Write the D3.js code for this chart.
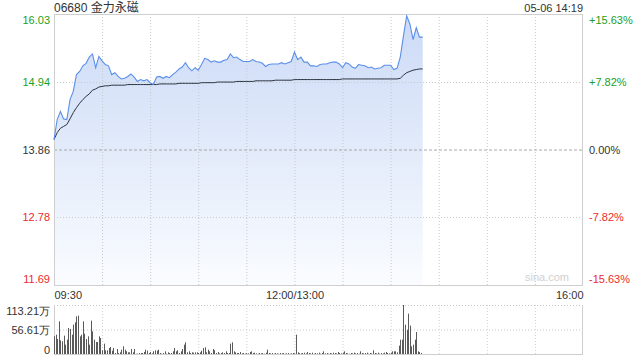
<!DOCTYPE html>
<html><head><meta charset="utf-8">
<script src="https://cdn.jsdelivr.net/npm/d3@7"></script>
<style>
html,body{margin:0;padding:0;background:#fff;}
svg{display:block;font-family:"Liberation Sans",Arial,"Noto Sans CJK SC",sans-serif;}
</style></head><body>
<svg id="c" width="640" height="360"></svg>
<script>
// ---- data ----
const title = "06680 金力永磁";
const stamp = "05-06 14:19";
const prevClose = 13.86;
const sessionMinutes = 330;          // 09:30-12:00 + 13:00-16:00
const priceStepMinutes = 2;          // one price sample every 2 minutes
const prices = [
14.02,14.34,14.47,14.35,14.34,14.66,14.79,15.06,15.11,15.20,
15.24,15.34,15.39,15.17,15.35,15.28,15.22,15.20,15.06,15.09,
15.03,14.99,15.00,15.03,15.07,15.02,14.95,14.98,14.96,14.98,
14.93,14.90,15.02,15.03,15.00,15.03,15.01,15.06,15.10,15.15,
15.18,15.25,15.17,15.12,15.17,15.13,15.22,15.32,15.30,15.26,
15.28,15.26,15.26,15.29,15.30,15.39,15.33,15.34,15.30,15.27,
15.27,15.27,15.30,15.27,15.26,15.24,15.19,15.22,15.23,15.23,
15.23,15.25,15.23,15.25,15.27,15.42,15.30,15.34,15.26,15.26,
15.20,15.20,15.19,15.22,15.23,15.23,15.25,15.26,15.26,15.23,
15.17,15.25,15.23,15.18,15.16,15.22,15.21,15.20,15.17,15.18,
15.15,15.16,15.17,15.21,15.21,15.21,15.14,15.16,15.34,15.68,
16.00,15.87,15.62,15.81,15.66,15.66];
const avgPrices = [
14.02,14.13,14.20,14.23,14.26,14.35,14.45,14.53,14.60,14.66,
14.71,14.75,14.81,14.83,14.86,14.87,14.88,14.88,14.89,14.89,
14.89,14.89,14.89,14.90,14.90,14.90,14.90,14.90,14.90,14.90,
14.90,14.90,14.90,14.91,14.91,14.91,14.91,14.91,14.91,14.92,
14.92,14.92,14.92,14.92,14.92,14.92,14.93,14.93,14.93,14.93,
14.93,14.94,14.94,14.94,14.94,14.94,14.94,14.95,14.95,14.95,
14.95,14.95,14.95,14.96,14.96,14.96,14.96,14.96,14.96,14.97,
14.97,14.97,14.97,14.97,14.97,14.98,14.98,14.98,14.98,14.98,
14.98,14.98,14.98,14.98,14.98,14.98,14.98,14.98,14.98,14.98,
14.99,14.99,14.99,14.99,14.99,14.99,14.99,14.99,14.99,14.99,
14.99,14.99,14.99,14.99,14.99,14.99,14.99,14.99,15.00,15.05,
15.09,15.11,15.13,15.14,15.15,15.15];
// volume per minute, in 万
const volumes = [
40.8,44.7,34.7,75.5,31.6,29.3,42.4,21.6,33.1,60.1,
57.8,44.7,67.8,73.2,87.0,88.6,40.8,44.7,75.5,47.0,
34.7,40.8,21.6,77.0,52.4,33.1,27.7,27.7,40.8,37.0,
8.5,23.9,8.5,8.5,13.9,16.2,7.7,13.9,2.3,11.6,2.3,
3.9,10.0,17.7,10.0,6.2,3.9,3.9,11.6,3.9,11.6,
0.5,0.8,2.3,2.3,2.3,4.6,10.0,7.7,2.3,4.6,1.5,
6.2,8.5,7.7,10.0,2.3,0.8,2.3,6.2,0.8,3.9,
2.3,2.3,6.2,13.9,6.2,8.5,2.3,6.2,11.6,21.6,
27.0,3.9,6.2,2.3,3.9,3.1,3.9,3.9,2.3,3.9,7.7,
13.9,15.4,3.9,10.0,6.2,2.3,11.6,8.5,2.3,4.6,1.5,
2.3,3.9,2.3,6.2,2.3,2.3,23.9,27.0,6.2,3.9,2.3,
2.3,4.6,1.5,2.3,0.8,2.3,1.5,4.6,6.2,2.3,
3.1,1.5,0.8,2.3,1.5,2.3,0.8,3.1,10.0,2.3,
1.5,2.3,0.8,2.3,1.5,0.8,2.3,1.5,2.3,0.8,
1.5,2.3,0.8,1.5,2.3,1.5,44.7,3.9,2.3,1.5,
2.3,3.1,1.5,4.6,2.3,1.5,3.1,0.8,2.3,1.5,
3.1,0.8,2.3,6.2,1.5,2.3,0.8,2.3,1.5,3.1,
2.3,1.5,4.6,2.3,1.5,3.1,6.2,2.3,1.5,0.8,
2.3,1.5,3.1,1.5,2.3,0.8,6.2,2.3,1.5,2.3,
3.1,0.8,2.3,1.5,8.5,2.3,1.5,3.1,0.8,2.3,
1.5,3.1,4.6,2.3,1.5,3.1,6.2,6.2,6.2,3.9,
19.3,33.1,33.1,113.2,67.8,56.2,93.2,65.5,17.7,21.6,
33.1,50.8,6.2,4.6,2.3];
const priceTicks = [16.03, 14.94, 13.86, 12.78, 11.69];
const pctTicks = ["+15.63%", "+7.82%", "0.00%", "-7.82%", "-15.63%"];
const volTicks = [113.21, 56.61, 0];
const timeTicks = [0, 150, 330];
const timeLabels = ["09:30", "12:00/13:00", "16:00"];
const watermark = "sina.com";

// ---- layout ----
const L = 54, R = 583, T = 14, B = 285, VT = 305, VB = 354;
const GREEN = "#22a022", RED = "#ee2a2a", DARK = "#333";
const svg = d3.select("#c");

const x = d3.scaleLinear().domain([0, sessionMinutes]).range([L, R]);
const y = d3.scaleLinear().domain([priceTicks[4], priceTicks[0]]).range([B, T]);
const yv = d3.scaleLinear().domain([0, volTicks[0]]).range([VB, VT]);
const colorOf = v => v > prevClose + 1e-9 ? GREEN : (v < prevClose - 1e-9 ? RED : DARK);

// gradient
const defs = svg.append("defs");
const g = defs.append("linearGradient").attr("id","fill").attr("gradientUnits","userSpaceOnUse")
  .attr("x1",0).attr("x2",0).attr("y1",T).attr("y2",B);
g.append("stop").attr("offset",0).attr("stop-color","#cbdaf6");
g.append("stop").attr("offset",1).attr("stop-color","#fafcff");

// area + lines
const tOf = (d,i) => i * priceStepMinutes;
svg.append("path").datum(prices)
  .attr("d", d3.area().x((d,i)=>x(tOf(d,i))).y0(B).y1(d=>y(d)))
  .attr("fill","url(#fill)");

// vertical grid (price + volume)
const vgrid = d3.range(30, sessionMinutes, 30);
svg.append("g").attr("transform",`translate(0,${B})`)
  .call(d3.axisBottom(x).tickValues(vgrid).tickSize(-(B-T)).tickFormat(""))
  .call(a=>{a.select(".domain").remove(); a.selectAll("line").attr("stroke","#c8c8c8").attr("stroke-dasharray","1,2");});
svg.append("g").attr("transform",`translate(0,${VB})`)
  .call(d3.axisBottom(x).tickValues(vgrid).tickSize(-(VB-VT)).tickFormat(""))
  .call(a=>{a.select(".domain").remove(); a.selectAll("line").attr("stroke","#d0d0d0").attr("stroke-dasharray","1,2");});

// horizontal grid
svg.append("g").attr("transform",`translate(${L},0)`)
  .call(d3.axisLeft(y).tickValues(priceTicks.slice(1,4)).tickSize(-(R-L)).tickFormat(""))
  .call(a=>{a.select(".domain").remove();
    a.selectAll("line").attr("stroke",d=>d===prevClose?"#a8a8a8":"#c8c8c8")
      .attr("stroke-dasharray",d=>d===prevClose?"3,2":"1,2");});
svg.append("g").attr("transform",`translate(${L},0)`)
  .call(d3.axisLeft(yv).tickValues(volTicks.slice(0,2)).tickSize(-(R-L)).tickFormat(""))
  .call(a=>{a.select(".domain").remove(); a.selectAll("line").attr("stroke","#c8c8c8").attr("stroke-dasharray","1,2");});

// frames
const frame = svg.append("g").attr("fill","none").attr("stroke","#cfcfcf");
frame.append("rect").attr("x",L+0.5).attr("y",T+0.5).attr("width",R-L-1).attr("height",B-T);
frame.append("line").attr("x1",L+0.5).attr("x2",L+0.5).attr("y1",VT).attr("y2",VB);
frame.append("line").attr("x1",R-0.5).attr("x2",R-0.5).attr("y1",VT).attr("y2",VB);
frame.append("line").attr("x1",L).attr("x2",R).attr("y1",VB+0.5).attr("y2",VB+0.5);

// avg line
svg.append("path").datum(avgPrices)
  .attr("d", d3.line().x((d,i)=>x(tOf(d,i))).y(d=>y(d)))
  .attr("fill","none").attr("stroke","#2b3440").attr("stroke-width",1);
// price line
svg.append("path").datum(prices)
  .attr("d", d3.line().x((d,i)=>x(tOf(d,i))).y(d=>y(d)))
  .attr("fill","none").attr("stroke","#5a8fea").attr("stroke-width",1.1);

// volume bars
svg.append("g").selectAll("rect").data(volumes).join("rect")
  .attr("x",(d,i)=>Math.round(x(i)))
  .attr("width",1)
  .attr("y",d=>yv(d))
  .attr("height",d=>VB-yv(d))
  .attr("fill","#5a5a5a");

// left price labels
const fs = 11;
const shift = (i,n) => i===0 ? 6 : (i===n-1 ? -6 : 0);
svg.append("g").attr("transform",`translate(${L-4},0)`)
  .call(d3.axisLeft(y).tickValues(priceTicks).tickSize(0).tickPadding(0).tickFormat(d3.format(".2f")))
  .call(a=>{a.select(".domain").remove();
    a.selectAll("text").attr("font-size",fs).attr("font-family",null)
     .attr("fill",d=>colorOf(d)).attr("dy",(d,i)=>(0.32*fs+shift(i,priceTicks.length))+"px");});
// right percent labels
svg.append("g").attr("transform",`translate(${R+6},0)`)
  .call(d3.axisRight(y).tickValues(priceTicks).tickSize(0).tickPadding(0).tickFormat((d,i)=>pctTicks[i]))
  .call(a=>{a.select(".domain").remove();
    a.selectAll("text").attr("font-size",fs).attr("font-family",null)
     .attr("fill",d=>colorOf(d)).attr("dy",(d,i)=>(0.32*fs+shift(i,priceTicks.length))+"px");});
// volume labels
svg.append("g").attr("transform",`translate(${L-4},0)`)
  .call(d3.axisLeft(yv).tickValues(volTicks).tickSize(0).tickPadding(0).tickFormat(d=>d===0?"0":d.toFixed(2)+"万"))
  .call(a=>{a.select(".domain").remove();
    a.selectAll("text").attr("font-size",fs).attr("font-family",null).attr("fill",DARK)
     .attr("dy",(d,i)=>(0.32*fs+(i===0?6:(i===2?-4:0)))+"px");});
// time labels
svg.append("g").attr("transform",`translate(0,${B})`)
  .call(d3.axisBottom(x).tickValues(timeTicks).tickSize(0).tickPadding(6).tickFormat((d,i)=>timeLabels[i]))
  .call(a=>{a.select(".domain").remove();
    a.selectAll("text").attr("font-size",fs).attr("font-family",null).attr("fill",DARK)
     .attr("text-anchor",(d,i)=>i===0?"start":(i===timeTicks.length-1?"end":"middle"));});

// title, stamp, watermark
svg.append("text").attr("x",L).attr("y",12).attr("font-size",12).attr("fill",DARK).text(title);
svg.append("text").attr("x",R).attr("y",12).attr("font-size",11).attr("fill",DARK).attr("text-anchor","end").text(stamp);
svg.append("text").attr("x",R-14).attr("y",B-4).attr("font-size",11).attr("fill","#d0d0d0").attr("text-anchor","end").text(watermark);
</script>
</body></html>
